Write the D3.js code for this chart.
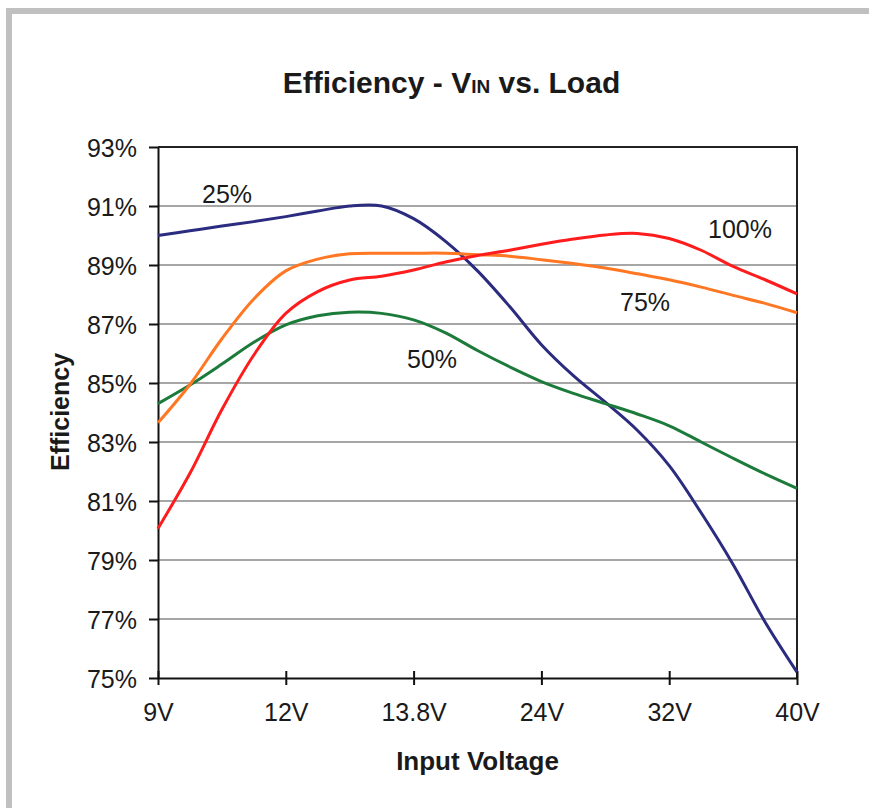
<!DOCTYPE html>
<html lang="en-US">
  <head>
    <meta charset="utf-8" />
    <script src="https://d3js.org/d3.v7.min.js"></script>
    <style>
      body { margin: 0; background: #fff; }
      svg text { font-family: "Liberation Sans", Arial, sans-serif; fill: #1a1a1a; }
    </style>
  </head>
  <body>
    <div id="chart"></div>
    <script>
      // categories on the x axis (evenly spaced, not to scale)
      var categories = ["9V", "12V", "13.8V", "24V", "32V", "40V"];
      // sample positions along the category axis (in category units)
      var positions = [0, 0.25, 0.5, 0.75, 1, 1.25, 1.5, 1.75, 2, 2.25, 2.5,
                       2.75, 3, 3.25, 3.5, 3.75, 4, 4.25, 4.5, 4.75, 5];
      var load25 = [90.0, 90.16, 90.32, 90.47, 90.64, 90.83, 91.0, 91.0, 90.57, 89.8, 88.8,
                    87.6, 86.3, 85.25, 84.35, 83.4, 82.2, 80.6, 78.85, 76.9, 75.2];
      var load50 = [84.3, 84.93, 85.64, 86.38, 86.97, 87.28, 87.4, 87.36, 87.14, 86.7, 86.1,
                    85.55, 85.05, 84.65, 84.3, 83.95, 83.55, 83.0, 82.45, 81.92, 81.43];
      var load75 = [83.65, 84.95, 86.5, 87.85, 88.8, 89.2, 89.38, 89.4, 89.4, 89.4, 89.35,
                    89.3, 89.18, 89.05, 88.9, 88.7, 88.5, 88.25, 87.97, 87.7, 87.38];
      var load100 = [80.07, 81.94, 84.1, 85.95, 87.36, 88.1, 88.49, 88.62, 88.83, 89.1, 89.32,
                     89.5, 89.7, 89.88, 90.02, 90.07, 89.9, 89.5, 88.95, 88.5, 88.02];
      var yTicks = [75, 77, 79, 81, 83, 85, 87, 89, 91, 93];

      var series = [
        { name: "25%", values: load25, color: "#2b2b80", lx: 202, ly: 203 },
        { name: "50%", values: load50, color: "#1c7a3a", lx: 407, ly: 368 },
        { name: "75%", values: load75, color: "#ff7722", lx: 620, ly: 311 },
        { name: "100%", values: load100, color: "#ff1c1c", lx: 708, ly: 238 },
      ];

      var width = 869;
      var height = 808;
      var plot = { left: 158, right: 797, top: 147, bottom: 678 };

      var svg = d3
        .select("#chart")
        .append("svg")
        .attr("width", width)
        .attr("height", height);

      // outer frame (left + top only are visible)
      svg.append("rect")
        .attr("x", 6).attr("y", 8)
        .attr("width", 6).attr("height", height - 8)
        .attr("fill", "#c0c0c0");
      svg.append("rect")
        .attr("x", 6).attr("y", 8)
        .attr("width", width - 6).attr("height", 6)
        .attr("fill", "#c0c0c0");

      var x = d3.scaleLinear().domain([0, categories.length - 1]).range([plot.left, plot.right]);
      var y = d3.scaleLinear().domain([75, 93]).range([plot.bottom, plot.top]);

      // gridlines
      svg.append("g")
        .selectAll("line")
        .data(yTicks.filter((d) => d > 75 && d < 93))
        .enter()
        .append("line")
        .attr("x1", plot.left).attr("x2", plot.right)
        .attr("y1", (d) => y(d)).attr("y2", (d) => y(d))
        .attr("stroke", "#a6a6a6")
        .attr("stroke-width", 2);

      // plot border top + right
      svg.append("path")
        .attr("d", `M${plot.left},${y(93)}H${plot.right}V${plot.bottom}`)
        .attr("fill", "none")
        .attr("stroke", "#222")
        .attr("stroke-width", 2);

      // y axis
      var yAxis = svg.append("g")
        .attr("transform", `translate(${plot.left},0)`)
        .call(d3.axisLeft(y).tickValues(yTicks).tickSize(9).tickSizeOuter(0).tickPadding(12)
          .tickFormat((d) => d + "%"));
      yAxis.select(".domain").attr("stroke", "#111").attr("stroke-width", 2);
      yAxis.selectAll(".tick line").attr("stroke", "#111").attr("stroke-width", 2);
      yAxis.selectAll(".tick text")
        .attr("font-size", 25)
        .attr("fill", "#222")
        .attr("dy", "0.36em");

      // x axis
      var xAxis = svg.append("g")
        .attr("transform", `translate(0,${plot.bottom})`)
        .call(d3.axisBottom(x).tickValues(d3.range(categories.length)).tickSize(7).tickSizeOuter(0)
          .tickPadding(18).tickFormat((d) => categories[d]));
      xAxis.select(".domain").attr("stroke", "#111").attr("stroke-width", 2);
      xAxis.selectAll(".tick line").attr("y1", -7).attr("stroke", "#111").attr("stroke-width", 2);
      xAxis.selectAll(".tick text").attr("font-size", 25).attr("fill", "#222");

      // lines
      var line = d3.line()
        .x((d) => x(d[0]))
        .y((d) => y(d[1]))
        .curve(d3.curveCatmullRom.alpha(0.5));

      svg.append("g")
        .selectAll("path")
        .data(series)
        .enter()
        .append("path")
        .attr("d", (s) => line(positions.map((p, i) => [p, s.values[i]])))
        .attr("fill", "none")
        .attr("stroke", (s) => s.color)
        .attr("stroke-width", 3)
        .attr("stroke-linejoin", "round");

      // series labels
      svg.append("g")
        .selectAll("text")
        .data(series)
        .enter()
        .append("text")
        .attr("x", (s) => s.lx)
        .attr("y", (s) => s.ly)
        .attr("font-size", 25)
        .attr("fill", "#222")
        .text((s) => s.name);

      // title
      var title = svg.append("text")
        .attr("x", (plot.left + plot.right) / 2 - 26)
        .attr("y", 93)
        .attr("text-anchor", "middle")
        .attr("font-size", 30)
        .attr("font-weight", "bold");
      title.append("tspan").text("Efficiency - V");
      title.append("tspan").attr("font-size", 19).text("IN");
      title.append("tspan").text(" vs. Load");

      // axis titles
      svg.append("text")
        .attr("x", (plot.left + plot.right) / 2)
        .attr("y", 770)
        .attr("text-anchor", "middle")
        .attr("font-size", 26)
        .attr("font-weight", "bold")
        .text("Input Voltage");

      svg.append("text")
        .attr("transform", "translate(69,412) rotate(-90)")
        .attr("text-anchor", "middle")
        .attr("font-size", 25)
        .attr("font-weight", "bold")
        .text("Efficiency");
    </script>
  </body>
</html>
